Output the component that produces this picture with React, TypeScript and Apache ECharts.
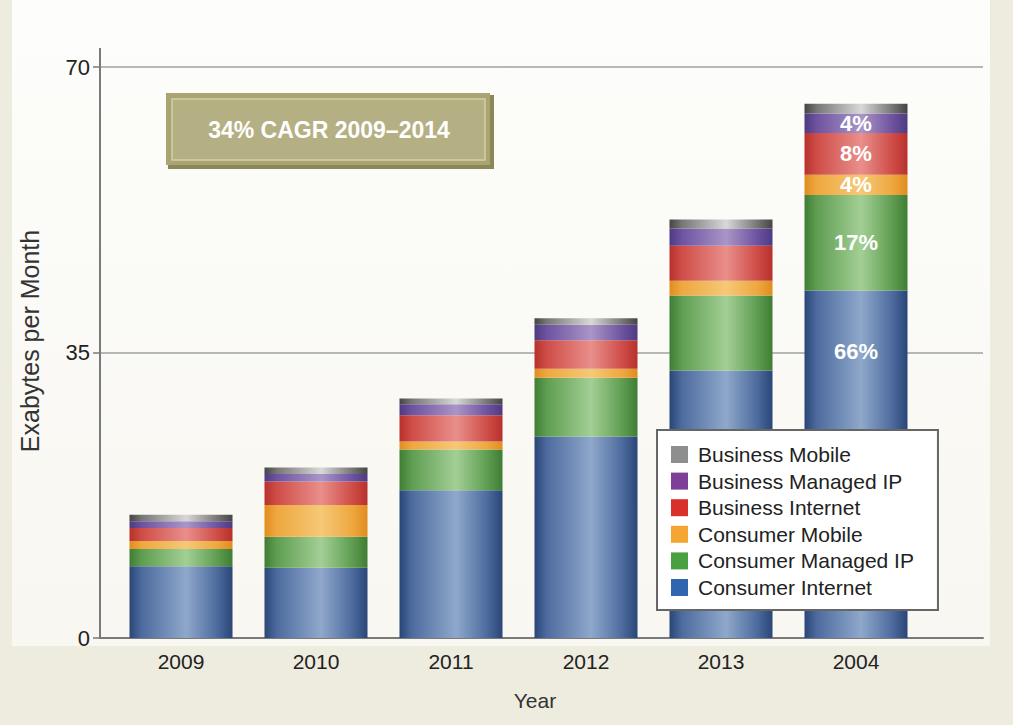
import React, { useEffect, useRef } from "react";
import * as echarts from "echarts";

const years = ["2009", "2010", "2011", "2012", "2013", "2004"];
const consumerInternet = [8.8, 8.6, 18.1, 24.7, 32.8, 42.6];
const consumerManagedIP = [2.1, 3.8, 5.0, 7.2, 9.2, 11.7];
const consumerMobile = [1.0, 3.9, 1.0, 1.1, 1.8, 2.5];
const businessInternet = [1.6, 2.9, 3.2, 3.5, 4.3, 5.1];
const businessManagedIP = [0.8, 0.9, 1.35, 1.9, 2.1, 2.4];
const businessMobile = [0.8, 0.8, 0.7, 0.8, 1.1, 1.2];
// share labels on the last bar
const lastBarLabels = ["66%", "17%", "4%", "8%", "4%", ""];
const yTicks = [0, 35, 70];

const seriesNames = [
  "Consumer Internet",
  "Consumer Managed IP",
  "Consumer Mobile",
  "Business Internet",
  "Business Managed IP",
  "Business Mobile",
];
const seriesValues = [
  consumerInternet,
  consumerManagedIP,
  consumerMobile,
  businessInternet,
  businessManagedIP,
  businessMobile,
];
const legendColors = ["#2f66ad", "#48a040", "#f4a533", "#d8302b", "#7d3f98", "#8e8e8e"];
const shades = [
  ["#2a4677", "#4d6b9e", "#8fa8cb"],
  ["#3f7d34", "#5f9e52", "#a3cf95"],
  ["#e08d1f", "#eea83f", "#f6c877"],
  ["#b8312c", "#cf4d48", "#e98f8b"],
  ["#4e3a82", "#6e53a0", "#aa95c7"],
  ["#454545", "#777777", "#d8d8d8"],
];

function cyl(c: string[]) {
  return new echarts.graphic.LinearGradient(0, 0, 1, 0, [
    { offset: 0, color: c[0] },
    { offset: 0.12, color: c[1] },
    { offset: 0.55, color: c[2] },
    { offset: 0.85, color: c[1] },
    { offset: 1, color: c[0] },
  ]);
}

export default function App() {
  const ref = useRef<HTMLDivElement>(null);
  useEffect(() => {
    if (!ref.current) return;
    const chart = echarts.init(ref.current, null, { renderer: "svg" });
    const font = "'Liberation Sans', Arial, Helvetica, sans-serif";
    const last = years.length - 1;
    const series = seriesNames.map((name, si) => ({
      name,
      type: "bar",
      stack: "total",
      xAxisIndex: 1,
      yAxisIndex: 1,
      barWidth: 103,
      itemStyle: { color: cyl(shades[si]) },
      data: seriesValues[si].map((v, i) => {
        if (i === last && lastBarLabels[si]) {
          return {
            value: v,
            label: {
              show: true,
              formatter: lastBarLabels[si],
              position: si === 0 ? ["50%", 61] : "inside",
              align: "center",
              verticalAlign: "middle",
              color: "#ffffff",
              fontSize: 22,
              fontWeight: "bold",
              fontFamily: font,
            },
          };
        }
        return v;
      }),
    }));

    chart.setOption({
      animation: false,
      backgroundColor: "#eeebdf",
      textStyle: { fontFamily: font },
      graphic: [
        {
          type: "rect",
          z: -10,
          silent: true,
          shape: { x: 12, y: 0, width: 978, height: 646 },
          style: {
            fill: new echarts.graphic.LinearGradient(0, 0, 0, 1, [
              { offset: 0, color: "#fdfdfb" },
              { offset: 1, color: "#f8f7f1" },
            ]),
          },
        },
        {
          type: "line",
          shape: { x1: 100, y1: 48, x2: 100, y2: 67 },
          style: { stroke: "#7a7a7a", lineWidth: 2 },
        },
        {
          type: "text",
          x: 30,
          y: 341,
          rotation: Math.PI / 2,
          style: {
            text: "Exabytes per Month",
            fontSize: 25,
            fontFamily: font,
            fill: "#333",
            align: "center",
            verticalAlign: "middle",
          },
        },
        {
          type: "text",
          x: 535,
          y: 700,
          style: {
            text: "Year",
            fontSize: 21,
            fontFamily: font,
            fill: "#333",
            align: "center",
            verticalAlign: "middle",
          },
        },
        {
          type: "group",
          children: [
            {
              type: "rect",
              shape: { x: 168, y: 95, width: 326, height: 74 },
              style: { fill: "#8c8757" },
            },
            {
              type: "rect",
              shape: { x: 166, y: 93, width: 324, height: 72 },
              style: { fill: "#a9a472" },
            },
            {
              type: "rect",
              shape: { x: 172, y: 99, width: 313, height: 61 },
              style: { fill: "#b5b083", stroke: "#d2cea9", lineWidth: 1.5 },
            },
            {
              type: "text",
              x: 329,
              y: 130,
              style: {
                text: "34% CAGR 2009\u20132014",
                fontSize: 23,
                fontWeight: "bold",
                fontFamily: font,
                fill: "#ffffff",
                align: "center",
                verticalAlign: "middle",
              },
            },
          ],
        },
      ],
      legend: {
        orient: "vertical",
        left: 657,
        top: 430,
        padding: [14, 24, 12, 14],
        backgroundColor: "#ffffff",
        borderColor: "#666666",
        borderWidth: 2,
        itemWidth: 17,
        itemHeight: 17,
        itemGap: 5.6,
        icon: "rect",
        textStyle: {
          fontSize: 21,
          color: "#222",
          fontFamily: font,
          lineHeight: 21,
          padding: [0, 0, 0, 5],
        },
        data: seriesNames
          .map((n, i) => ({ name: n, itemStyle: { color: legendColors[i] } }))
          .reverse(),
      },
      grid: [
        { left: 100, top: 67, width: 883, height: 571 },
        { left: 113.5, top: 67, width: 810, height: 571 },
      ],
      xAxis: [
        {
          gridIndex: 0,
          type: "value",
          min: 0,
          max: 1,
          axisLine: { show: true, lineStyle: { color: "#7a7a7a", width: 2 } },
          axisTick: { show: false },
          axisLabel: { show: false },
          splitLine: { show: false },
        },
        {
          gridIndex: 1,
          type: "category",
          data: years,
          axisLine: { show: false },
          axisTick: { show: false },
          axisLabel: { fontSize: 21, color: "#222", margin: 13, fontFamily: font },
        },
      ],
      yAxis: [
        {
          gridIndex: 0,
          type: "value",
          min: yTicks[0],
          max: yTicks[yTicks.length - 1],
          interval: yTicks[1] - yTicks[0],
          axisLine: { show: true, lineStyle: { color: "#7a7a7a", width: 2 } },
          axisTick: { show: true, length: 7, lineStyle: { color: "#7a7a7a", width: 1.5 } },
          axisLabel: { fontSize: 22, color: "#222", margin: 10, fontFamily: font },
          splitLine: { show: true, lineStyle: { color: "#a0a0a0", width: 1.5 } },
        },
        {
          gridIndex: 1,
          type: "value",
          min: yTicks[0],
          max: yTicks[yTicks.length - 1],
          show: false,
          splitLine: { show: false },
        },
      ],
      series,
    });
    return () => chart.dispose();
  }, []);
  return (
    <div
      ref={ref}
      style={{ position: "fixed", left: 0, top: 0, width: 1013, height: 725 }}
    />
  );
}
